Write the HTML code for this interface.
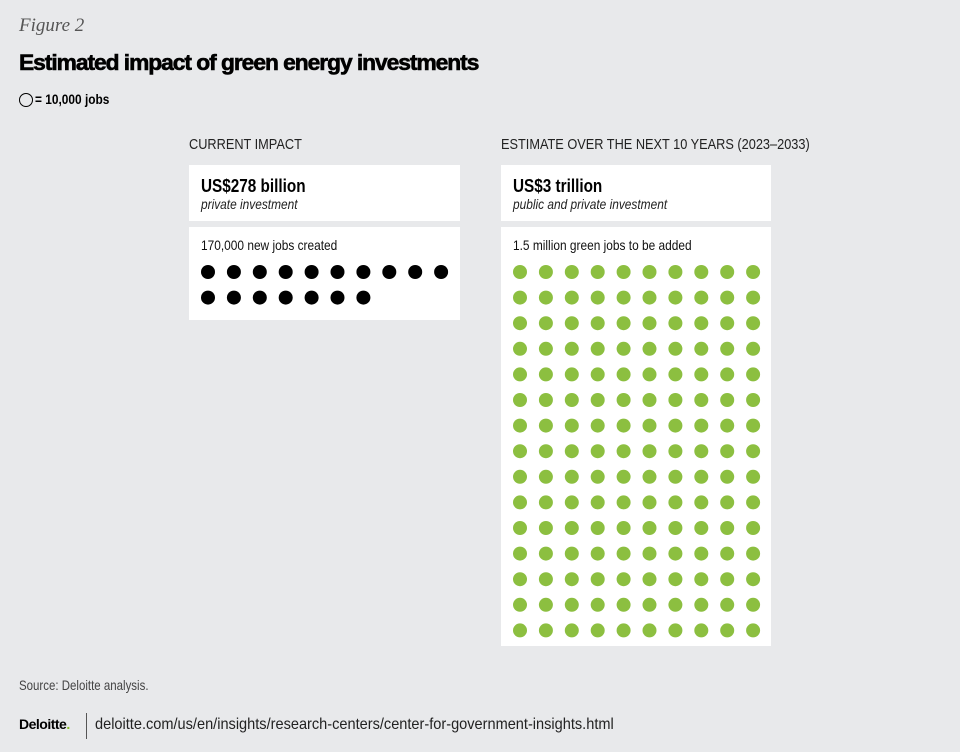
<!DOCTYPE html>
<html><head><meta charset="utf-8"><style>
body{margin:0;width:960px;height:752px;background:#e8e9eb;font-family:"Liberation Sans",sans-serif;color:#000;position:relative;overflow:hidden}
.a{position:absolute;white-space:nowrap}
.n{transform:scaleX(0.85);transform-origin:0 0}
.box{position:absolute;background:#fff}
</style></head><body>
<div class="a" style="left:19px;top:15px;font-family:'Liberation Serif',serif;font-style:italic;font-size:19px;color:#555">Figure 2</div>
<div class="a" style="left:19px;top:50px;font-weight:900;font-size:22px;letter-spacing:-1px;transform:scaleX(1.035);transform-origin:0 0;-webkit-text-stroke:0.6px #000">Estimated impact of green energy investments</div>
<div class="a" style="left:19px;top:91px;font-size:14px;font-weight:bold"><span style="display:inline-block;width:12px;height:12px;border:1.5px solid #000;border-radius:50%;vertical-align:-3px;margin-right:2px"></span><span class="n" style="display:inline-block"> = 10,000 jobs</span></div>

<div class="a n" style="left:189px;top:136px;font-size:15px;color:#222">CURRENT IMPACT</div>
<div class="box" style="left:189px;top:165px;width:271px;height:56px">
 <div class="a n" style="left:12px;top:11px;font-size:18px;font-weight:bold">US$278 billion</div>
 <div class="a n" style="left:12px;top:31px;font-size:14px;font-style:italic;color:#222">private investment</div>
</div>
<div class="box" style="left:189px;top:227px;width:271px;height:93px">
 <div class="a n" style="left:12px;top:10px;font-size:14px;color:#111">170,000 new jobs created</div>
</div>

<div class="a n" style="left:501px;top:136px;font-size:15px;color:#222">ESTIMATE OVER THE NEXT 10 YEARS (2023–2033)</div>
<div class="box" style="left:501px;top:165px;width:270px;height:56px">
 <div class="a n" style="left:12px;top:11px;font-size:18px;font-weight:bold">US$3 trillion</div>
 <div class="a n" style="left:12px;top:31px;font-size:14px;font-style:italic;color:#222">public and private investment</div>
</div>
<div class="box" style="left:501px;top:227px;width:270px;height:419px">
 <div class="a n" style="left:12px;top:10px;font-size:14px;color:#111">1.5 million green jobs to be added</div>
</div>

<svg id="dots" class="a" style="left:0;top:0" width="960" height="752"></svg>

<div class="a" style="left:19px;top:677px;font-size:14px;color:#444;transform:scaleX(0.82);transform-origin:0 0">Source: Deloitte analysis.</div>
<div class="a" style="left:19px;top:716px;font-weight:bold;font-size:14px;letter-spacing:-0.5px">Deloitte<span style="color:#86bc25">.</span></div>
<div class="a" style="left:86px;top:713px;width:1px;height:26px;background:#555"></div>
<div class="a" style="left:95px;top:716px;font-size:16px;color:#222;transform:scaleX(0.91);transform-origin:0 0">deloitte.com/us/en/insights/research-centers/center-for-government-insights.html</div>

<script>
const seriesNames=["current","estimate"];
const jobsCounts=[170000,1500000];
const jobsPerDot=10000;
const perRow=10;
const colors=["#000000","#8cbf40"];
const origins=[[208,272],[520,272]];
const svg=document.getElementById('dots');
const NS="http://www.w3.org/2000/svg";
const dx=25.9, dy=25.6, r=7;
for(let s=0;s<seriesNames.length;s++){
  const n=Math.round(jobsCounts[s]/jobsPerDot);
  for(let i=0;i<n;i++){
    const c=document.createElementNS(NS,'circle');
    c.setAttribute('cx',origins[s][0]+(i%perRow)*dx);
    c.setAttribute('cy',origins[s][1]+Math.floor(i/perRow)*dy);
    c.setAttribute('r',r);
    c.setAttribute('fill',colors[s]);
    
    
    svg.appendChild(c);
  }
}
</script>
</body></html>
